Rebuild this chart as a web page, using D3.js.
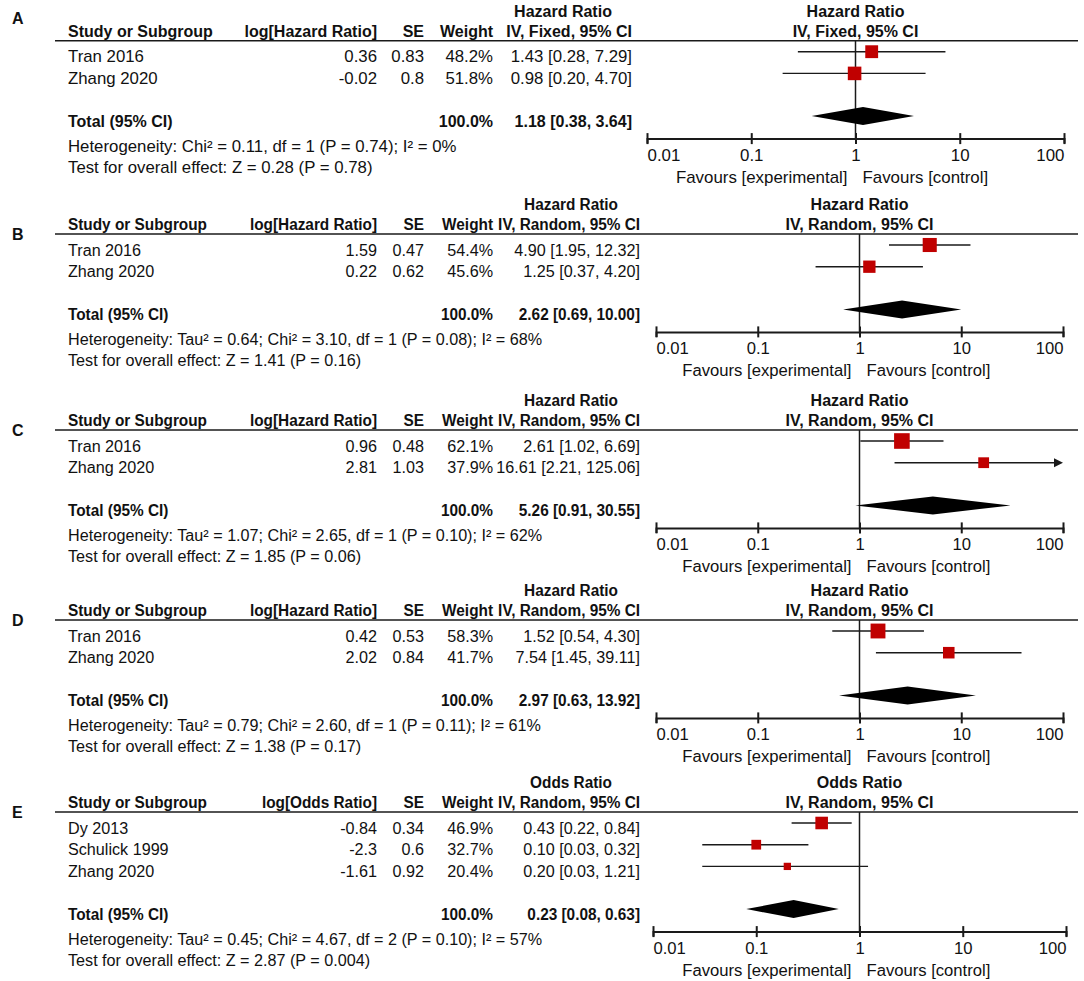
<!DOCTYPE html>
<html><head><meta charset="utf-8">
<script src="https://cdn.jsdelivr.net/npm/d3@7"></script>
<style>
body{margin:0;background:#fff}
svg{display:block}
text{font-family:Arial,"Liberation Sans",sans-serif;fill:#111;font-size:16px}
</style>
</head><body>
<svg id="c" width="1084" height="981"></svg>
<script>
// ---------- DATA ----------
const panelLabels = ["A", "B", "C", "D", "E"];
const measureNames = ["Hazard Ratio", "Hazard Ratio", "Hazard Ratio", "Hazard Ratio", "Odds Ratio"];
const logLabels = ["log[Hazard Ratio]", "log[Hazard Ratio]", "log[Hazard Ratio]", "log[Hazard Ratio]", "log[Odds Ratio]"];
const methodLabels = ["IV, Fixed, 95% CI", "IV, Random, 95% CI", "IV, Random, 95% CI", "IV, Random, 95% CI", "IV, Random, 95% CI"];

const studiesA = ["Tran 2016", "Zhang 2020"];
const logA = [0.36, -0.02];
const seA = [0.83, 0.8];
const weightA = [48.2, 51.8];
const estA = [1.43, 0.98];
const loA = [0.28, 0.20];
const hiA = [7.29, 4.70];
const totalA = [1.18, 0.38, 3.64];

const studiesB = ["Tran 2016", "Zhang 2020"];
const logB = [1.59, 0.22];
const seB = [0.47, 0.62];
const weightB = [54.4, 45.6];
const estB = [4.90, 1.25];
const loB = [1.95, 0.37];
const hiB = [12.32, 4.20];
const totalB = [2.62, 0.69, 10.00];

const studiesC = ["Tran 2016", "Zhang 2020"];
const logC = [0.96, 2.81];
const seC = [0.48, 1.03];
const weightC = [62.1, 37.9];
const estC = [2.61, 16.61];
const loC = [1.02, 2.21];
const hiC = [6.69, 125.06];
const totalC = [5.26, 0.91, 30.55];

const studiesD = ["Tran 2016", "Zhang 2020"];
const logD = [0.42, 2.02];
const seD = [0.53, 0.84];
const weightD = [58.3, 41.7];
const estD = [1.52, 7.54];
const loD = [0.54, 1.45];
const hiD = [4.30, 39.11];
const totalD = [2.97, 0.63, 13.92];

const studiesE = ["Dy 2013", "Schulick 1999", "Zhang 2020"];
const logE = [-0.84, -2.3, -1.61];
const seE = [0.34, 0.6, 0.92];
const weightE = [46.9, 32.7, 20.4];
const estE = [0.43, 0.10, 0.20];
const loE = [0.22, 0.03, 0.03];
const hiE = [0.84, 0.32, 1.21];
const totalE = [0.23, 0.08, 0.63];

const hetTexts = [
  "Heterogeneity: Chi\u00B2 = 0.11, df = 1 (P = 0.74); I\u00B2 = 0%",
  "Heterogeneity: Tau\u00B2 = 0.64; Chi\u00B2 = 3.10, df = 1 (P = 0.08); I\u00B2 = 68%",
  "Heterogeneity: Tau\u00B2 = 1.07; Chi\u00B2 = 2.65, df = 1 (P = 0.10); I\u00B2 = 62%",
  "Heterogeneity: Tau\u00B2 = 0.79; Chi\u00B2 = 2.60, df = 1 (P = 0.11); I\u00B2 = 61%",
  "Heterogeneity: Tau\u00B2 = 0.45; Chi\u00B2 = 4.67, df = 2 (P = 0.10); I\u00B2 = 57%"
];
const testTexts = [
  "Test for overall effect: Z = 0.28 (P = 0.78)",
  "Test for overall effect: Z = 1.41 (P = 0.16)",
  "Test for overall effect: Z = 1.85 (P = 0.06)",
  "Test for overall effect: Z = 1.38 (P = 0.17)",
  "Test for overall effect: Z = 2.87 (P = 0.004)"
];
const tickValues = [0.01, 0.1, 1, 10, 100];
const tickLabels = ["0.01", "0.1", "1", "10", "100"];
const favourLeft = "Favours [experimental]";
const favourRight = "Favours [control]";

const panelData = [
  {studies: studiesA, logv: logA, se: seA, weight: weightA, est: estA, lo: loA, hi: hiA, total: totalA},
  {studies: studiesB, logv: logB, se: seB, weight: weightB, est: estB, lo: loB, hi: hiB, total: totalB},
  {studies: studiesC, logv: logC, se: seC, weight: weightC, est: estC, lo: loC, hi: hiC, total: totalC},
  {studies: studiesD, logv: logD, se: seD, weight: weightD, est: estD, lo: loD, hi: hiD, total: totalD},
  {studies: studiesE, logv: logE, se: seE, weight: weightE, est: estE, lo: loE, hi: hiE, total: totalE}
];

// ---------- LAYOUT ----------
// sx: bold text horizontal scale (left table), rx: regular text scale (left table), px: regular text scale (plot side)
const layout = [
  {L: 40.7, labelY: 24,  x0: 647, x1: 1064, ciEnd: 632, sx: 1,    rx: 1.05, px: 1.055},
  {L: 234,  labelY: 240, x0: 656, x1: 1063, ciEnd: 640, sx: 0.96, rx: 1.01, px: 1.04},
  {L: 430,  labelY: 436, x0: 656, x1: 1063, ciEnd: 640, sx: 0.96, rx: 1.01, px: 1.04},
  {L: 620,  labelY: 626, x0: 656, x1: 1063, ciEnd: 640, sx: 0.96, rx: 1.01, px: 1.04},
  {L: 812,  labelY: 818, x0: 653, x1: 1066, ciEnd: 640, sx: 0.96, rx: 1.01, px: 1.04}
];
const rowStep = 21.7;
const f2 = d3.format(".2f");
const f1 = d3.format(".1f");
const sizeScale = d3.scaleLinear().domain([0, 100]).range([3.2, 23.2]);
const red = "#c00000";
const ink = "#1a1a1a";

const svg = d3.select("#c");

function txt(g, x, y, s, opt = {}) {
  return g.append("text")
    .attr("transform", `translate(${x},${y}) scale(${opt.sx || 1},1)`)
    .attr("text-anchor", opt.anchor || "start")
    .attr("font-weight", opt.bold ? "bold" : "normal")
    .text(s);
}

panelData.forEach((d, p) => {
  const lay = layout[p];
  const g = svg.append("g");
  const L = lay.L;
  const sx = lay.sx, rx = lay.rx, px = lay.px;
  const n = d.studies.length;
  const rowY = i => L + 11 + rowStep * i;
  const diamondY = L + 11 + rowStep * n + 21;
  const axisY = diamondY + 22.5;

  const x = d3.scaleLog().domain([0.01, 100]).range([lay.x0, lay.x1]);
  const x1 = x(1);

  // panel label
  txt(g, 12, lay.labelY, panelLabels[p], {bold: true});

  // headers
  const titleCx = lay.ciEnd - 69;
  txt(g, titleCx, L - 24, measureNames[p], {bold: true, anchor: "middle", sx});
  txt(g, 68, L - 4, "Study or Subgroup", {bold: true, sx});
  txt(g, 377, L - 4, logLabels[p], {bold: true, anchor: "end", sx});
  txt(g, 424, L - 4, "SE", {bold: true, anchor: "end", sx});
  txt(g, 493, L - 4, "Weight", {bold: true, anchor: "end", sx});
  txt(g, lay.ciEnd, L - 4, methodLabels[p], {bold: true, anchor: "end", sx});
  txt(g, x1, L - 24, measureNames[p], {bold: true, anchor: "middle"});
  txt(g, x1, L - 4, methodLabels[p], {bold: true, anchor: "middle"});

  // top rule
  g.append("line").attr("x1", 55).attr("x2", 1078).attr("y1", L).attr("y2", L)
    .attr("stroke", ink).attr("stroke-width", 1.5);

  // study rows text
  d.studies.forEach((s, i) => {
    const ty = rowY(i) + 10.5;
    txt(g, 68, ty, s, {sx: rx});
    txt(g, 377, ty, String(d.logv[i]), {anchor: "end", sx: rx});
    txt(g, 424, ty, String(d.se[i]), {anchor: "end", sx: rx});
    txt(g, 493, ty, f1(d.weight[i]) + "%", {anchor: "end", sx: rx});
    txt(g, lay.ciEnd, ty, `${f2(d.est[i])} [${f2(d.lo[i])}, ${f2(d.hi[i])}]`, {anchor: "end", sx: rx});
  });

  // total
  const tty = diamondY + 11;
  txt(g, 68, tty, "Total (95% CI)", {bold: true, sx});
  txt(g, 493, tty, "100.0%", {bold: true, anchor: "end", sx});
  txt(g, lay.ciEnd, tty, `${f2(d.total[0])} [${f2(d.total[1])}, ${f2(d.total[2])}]`, {bold: true, anchor: "end", sx});
  txt(g, 68, axisY + 13, hetTexts[p], {sx: rx});
  txt(g, 68, axisY + 34.5, testTexts[p], {sx: rx});

  // vertical line of no effect
  g.append("line").attr("x1", x1).attr("x2", x1).attr("y1", L).attr("y2", axisY)
    .attr("stroke", ink).attr("stroke-width", 1.5);

  // CI lines and squares
  d.studies.forEach((s, i) => {
    const cy = rowY(i);
    const lo = Math.max(d.lo[i], 0.01), hi = Math.min(d.hi[i], 100);
    const over = d.hi[i] > 100;
    g.append("line").attr("x1", x(lo)).attr("x2", over ? x(hi) - 6 : x(hi))
      .attr("y1", cy).attr("y2", cy).attr("stroke", ink).attr("stroke-width", 1.4);
    if (over) {
      const ax = x(hi);
      g.append("path").attr("d", `M${ax},${cy} L${ax - 9},${cy - 4.5} L${ax - 9},${cy + 4.5} Z`).attr("fill", ink);
    }
    const sz = sizeScale(d.weight[i]);
    g.append("rect").attr("x", x(d.est[i]) - sz / 2).attr("y", cy - sz / 2)
      .attr("width", sz).attr("height", sz).attr("fill", red);
  });

  // diamond
  const t = d.total;
  g.append("path")
    .attr("d", `M${x(t[1])},${diamondY} L${x(t[0])},${diamondY - 9} L${x(t[2])},${diamondY} L${x(t[0])},${diamondY + 9} Z`)
    .attr("fill", "#000");

  // axis
  const axis = d3.axisBottom(x).tickValues(tickValues).tickFormat((v, i) => tickLabels[i]).tickSizeOuter(0).tickSize(5);
  const ag = g.append("g").attr("transform", `translate(0,${axisY})`).call(axis);
  ag.select(".domain").attr("stroke", ink).attr("stroke-width", 2);
  ag.selectAll(".tick line").attr("y1", -5.5).attr("y2", 5.5).attr("stroke", ink).attr("stroke-width", 2);
  ag.selectAll(".tick text")
    .attr("y", 22).attr("dy", null)
    .attr("transform", `scale(${px},1)`)
    .attr("font-size", 16).attr("font-family", 'Arial,"Liberation Sans",sans-serif')
    .attr("fill", "#111")
    .attr("text-anchor", (v, i) => i === 0 ? "start" : (i === tickValues.length - 1 ? "end" : "middle"));

  txt(g, x1 - 8, axisY + 44, favourLeft, {anchor: "end", sx: px});
  txt(g, x1 + 7, axisY + 44, favourRight, {sx: px});
});
</script>
</body></html>
